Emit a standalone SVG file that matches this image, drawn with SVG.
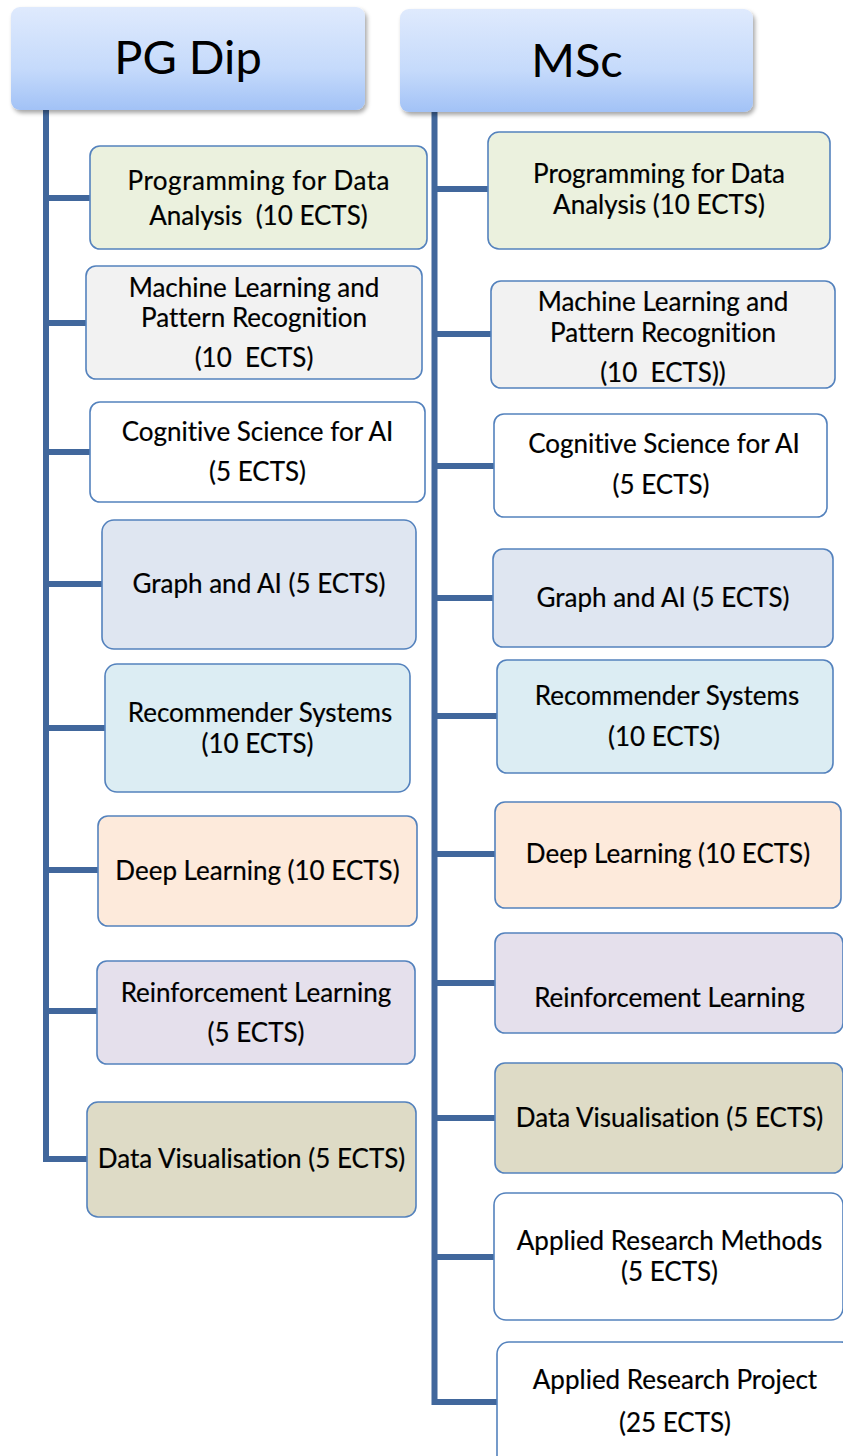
<svg xmlns="http://www.w3.org/2000/svg" width="843" height="1456" viewBox="0 0 843 1456">
<defs>
<linearGradient id="hdr" x1="0" y1="0" x2="0" y2="1">
<stop offset="0" stop-color="#dfeafd"/>
<stop offset="0.6" stop-color="#c5dafb"/>
<stop offset="1" stop-color="#a2c2f6"/>
</linearGradient>
<filter id="sh" x="-10%" y="-10%" width="125%" height="135%">
<feDropShadow dx="2" dy="3" stdDeviation="2.2" flood-color="#000" flood-opacity="0.35"/>
</filter>
<style>
.hdr{fill:url(#hdr);filter:url(#sh)}
.ht{font-family:Lato,"Liberation Sans",sans-serif;font-size:47px;fill:#000;text-anchor:middle;font-variant-ligatures:none}
.box{stroke:#5482bd;stroke-width:1.6}
.t{font-family:Lato,"Liberation Sans",sans-serif;font-size:26px;fill:#000;stroke:#000;stroke-width:0.2;text-anchor:middle;font-variant-ligatures:none}
.conn{fill:none;stroke:#41679c;stroke-width:6;stroke-linejoin:miter;stroke-linecap:butt}
.g{fill:#ebf1de}.m{fill:#f2f2f2}.w{fill:#ffffff}.b{fill:#dfe6f1}.c{fill:#dcedf3}.o{fill:#fdeadb}.p{fill:#e5e0ec}.k{fill:#dedbc6}
</style>
</defs>
<rect width="843" height="1456" fill="#fff"/>
<g id="connectors">
<path class="conn" d="M46 110 V1159 H88"/>
<path class="conn" d="M46 198 H91 M46 323 H87 M46 452 H91 M46 584 H103 M46 728 H106 M46 870 H99 M46 1011 H98"/>
<path class="conn" d="M434.5 112 V1402 H498"/>
<path class="conn" d="M434.5 189 H489 M434.5 334 H492 M434.5 466 H495 M434.5 598 H494 M434.5 716 H498 M434.5 854 H496 M434.5 983 H496 M434.5 1118 H496 M434.5 1257 H495"/>
</g>
<g id="hdr-pgdip"><rect class="hdr" x="11" y="7" width="354" height="103" rx="9"/><text class="ht" x="188" y="74">PG Dip</text></g>
<g id="hdr-msc"><rect class="hdr" x="400" y="9" width="353" height="103" rx="9"/><text class="ht" x="577" y="77">MSc</text></g>

<g id="l1"><rect class="box g" x="90" y="146" width="337" height="103" rx="10"/><text class="t" x="258.5" y="190" textLength="262">Programming for Data</text><text class="t" x="258.5" y="225" xml:space="preserve">Analysis  (10 ECTS)</text></g>
<g id="l2"><rect class="box m" x="86" y="266" width="336" height="113" rx="10"/><text class="t" x="254" y="297">Machine Learning and</text><text class="t" x="254" y="327">Pattern Recognition</text><text class="t" x="254" y="367" xml:space="preserve">(10  ECTS)</text></g>
<g id="l3"><rect class="box w" x="90" y="402" width="335" height="100" rx="10"/><text class="t" x="257.5" y="441">Cognitive Science for AI</text><text class="t" x="257.5" y="481">(5 ECTS)</text></g>
<g id="l4"><rect class="box b" x="102" y="520" width="314" height="129" rx="12"/><text class="t" x="259" y="593">Graph and AI (5 ECTS)</text></g>
<g id="l5"><rect class="box c" x="105" y="664" width="305" height="128" rx="12"/><text class="t" x="260" y="722">Recommender Systems</text><text class="t" x="257.5" y="753">(10 ECTS)</text></g>
<g id="l6"><rect class="box o" x="98" y="816" width="319" height="110" rx="10"/><text class="t" x="257.5" y="880">Deep Learning (10 ECTS)</text></g>
<g id="l7"><rect class="box p" x="97" y="961" width="318" height="103" rx="10"/><text class="t" x="256" y="1002">Reinforcement Learning</text><text class="t" x="256" y="1042">(5 ECTS)</text></g>
<g id="l8"><rect class="box k" x="87" y="1102" width="329" height="115" rx="11"/><text class="t" x="251.5" y="1168">Data Visualisation (5 ECTS)</text></g>

<g id="r1"><rect class="box g" x="488" y="132" width="342" height="117" rx="11"/><text class="t" x="659" y="183">Programming for Data</text><text class="t" x="659" y="214">Analysis (10 ECTS)</text></g>
<g id="r2"><rect class="box m" x="491" y="281" width="344" height="107" rx="10"/><text class="t" x="663" y="311">Machine Learning and</text><text class="t" x="663" y="342">Pattern Recognition</text><text class="t" x="663" y="382" xml:space="preserve">(10  ECTS))</text></g>
<g id="r3"><rect class="box w" x="494" y="414" width="333" height="103" rx="10"/><text class="t" x="664" y="453">Cognitive Science for AI</text><text class="t" x="661" y="494">(5 ECTS)</text></g>
<g id="r4"><rect class="box b" x="493" y="549" width="340" height="98" rx="10"/><text class="t" x="663" y="607">Graph and AI (5 ECTS)</text></g>
<g id="r5"><rect class="box c" x="497" y="660" width="336" height="113" rx="10"/><text class="t" x="667" y="705">Recommender Systems</text><text class="t" x="664" y="746">(10 ECTS)</text></g>
<g id="r6"><rect class="box o" x="495" y="802" width="346" height="106" rx="10"/><text class="t" x="668" y="863">Deep Learning (10 ECTS)</text></g>
<g id="r7"><rect class="box p" x="495" y="933" width="348" height="100" rx="10"/><text class="t" x="669.5" y="1007">Reinforcement Learning</text></g>
<g id="r8"><rect class="box k" x="495" y="1063" width="348" height="110" rx="10"/><text class="t" x="669.5" y="1127">Data Visualisation (5 ECTS)</text></g>
<g id="r9"><rect class="box w" x="494" y="1193" width="349" height="127" rx="12"/><text class="t" x="669.5" y="1250">Applied Research Methods</text><text class="t" x="669.5" y="1281">(5 ECTS)</text></g>
<g id="r10"><rect class="box w" x="497" y="1342" width="356" height="130" rx="12"/><text class="t" x="675" y="1389">Applied Research Project</text><text class="t" x="675" y="1432">(25 ECTS)</text></g>
</svg>
